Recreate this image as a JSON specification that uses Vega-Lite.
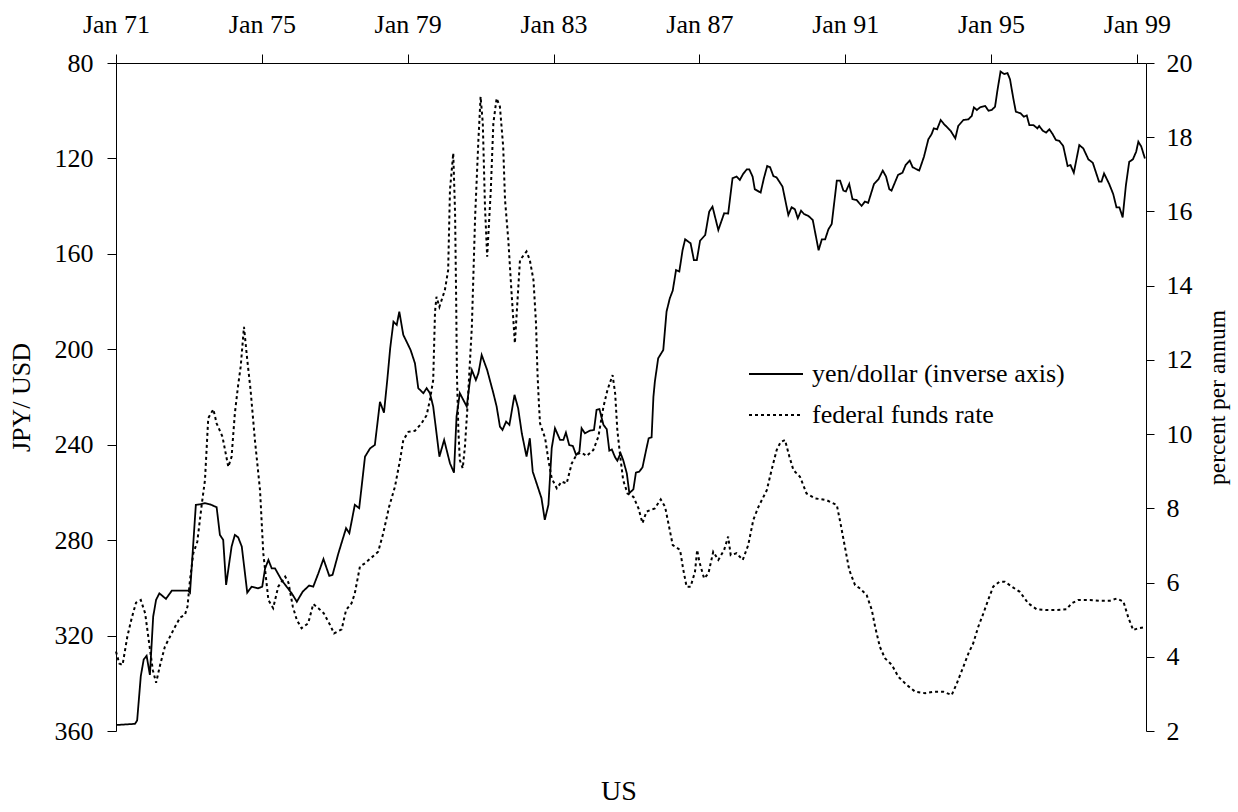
{
  "$schema": "https://vega.github.io/schema/vega-lite/v6.json",
  "width": 1030,
  "height": 668,
  "autosize": {"type": "none"},
  "padding": {"left": 116, "top": 63, "right": 92, "bottom": 81},
  "background": "white",
  "config": {
    "view": {"stroke": null},
    "font": "Liberation Serif",
    "axis": {
      "grid": false,
      "domainColor": "#000",
      "tickColor": "#000",
      "labelColor": "#000",
      "titleColor": "#000",
      "labelFont": "Liberation Serif",
      "titleFont": "Liberation Serif",
      "labelFontSize": 26,
      "titleFontSize": 26,
      "titleFontWeight": "normal",
      "domainWidth": 1,
      "tickWidth": 1
    },
    "legend": {"labelFont": "Liberation Serif", "titleFont": "Liberation Serif"},
    "title": {"font": "Liberation Serif"}
  },
  "title": {"text": "US", "orient": "bottom", "fontSize": 28, "font": "Liberation Serif", "fontWeight": "normal", "color": "#000", "offset": 34, "dx": -12},
  "datasets": {
    "yen": [
      {"year": 1971.00, "jpy": 357.5}, {"year": 1971.52, "jpy": 357}, {"year": 1971.58, "jpy": 355.6}, {"year": 1971.68, "jpy": 337},
      {"year": 1971.76, "jpy": 330}, {"year": 1971.84, "jpy": 328.5}, {"year": 1971.93, "jpy": 336.5}, {"year": 1972.02, "jpy": 312},
      {"year": 1972.10, "jpy": 305}, {"year": 1972.19, "jpy": 302.3}, {"year": 1972.37, "jpy": 304.6}, {"year": 1972.53, "jpy": 301.2},
      {"year": 1972.98, "jpy": 301.2}, {"year": 1973.03, "jpy": 302}, {"year": 1973.19, "jpy": 265.2}, {"year": 1973.30, "jpy": 265},
      {"year": 1973.44, "jpy": 264.5}, {"year": 1973.58, "jpy": 265}, {"year": 1973.76, "jpy": 266.2}, {"year": 1973.85, "jpy": 277.8},
      {"year": 1973.94, "jpy": 279.9}, {"year": 1974.02, "jpy": 298.8}, {"year": 1974.17, "jpy": 282.7}, {"year": 1974.26, "jpy": 277.8},
      {"year": 1974.35, "jpy": 278.8}, {"year": 1974.45, "jpy": 282.7}, {"year": 1974.60, "jpy": 302}, {"year": 1974.72, "jpy": 299.5},
      {"year": 1974.90, "jpy": 300.2}, {"year": 1975.01, "jpy": 299.5}, {"year": 1975.09, "jpy": 291.8}, {"year": 1975.18, "jpy": 288.3},
      {"year": 1975.27, "jpy": 291.8}, {"year": 1975.36, "jpy": 291.8}, {"year": 1975.54, "jpy": 296.7}, {"year": 1975.82, "jpy": 302.3},
      {"year": 1975.96, "jpy": 305.8}, {"year": 1976.12, "jpy": 301.6}, {"year": 1976.30, "jpy": 299}, {"year": 1976.41, "jpy": 299.5},
      {"year": 1976.55, "jpy": 293.9}, {"year": 1976.69, "jpy": 287.9}, {"year": 1976.85, "jpy": 295}, {"year": 1976.94, "jpy": 294.5},
      {"year": 1977.10, "jpy": 285.5}, {"year": 1977.31, "jpy": 275}, {"year": 1977.40, "jpy": 277.1}, {"year": 1977.55, "jpy": 265.2},
      {"year": 1977.67, "jpy": 266.6}, {"year": 1977.83, "jpy": 245}, {"year": 1977.97, "jpy": 241.5}, {"year": 1978.10, "jpy": 240.1},
      {"year": 1978.24, "jpy": 222}, {"year": 1978.35, "jpy": 226.6}, {"year": 1978.44, "jpy": 212.9}, {"year": 1978.52, "jpy": 199.6},
      {"year": 1978.61, "jpy": 188.4}, {"year": 1978.70, "jpy": 189.8}, {"year": 1978.77, "jpy": 184.2}, {"year": 1978.88, "jpy": 194},
      {"year": 1978.97, "jpy": 196.8}, {"year": 1979.08, "jpy": 200.3}, {"year": 1979.20, "jpy": 205.9}, {"year": 1979.29, "jpy": 216.3},
      {"year": 1979.43, "jpy": 218.4}, {"year": 1979.52, "jpy": 216.3}, {"year": 1979.61, "jpy": 218.4}, {"year": 1979.70, "jpy": 224},
      {"year": 1979.87, "jpy": 245}, {"year": 1980.00, "jpy": 238}, {"year": 1980.16, "jpy": 247.8}, {"year": 1980.27, "jpy": 251.7},
      {"year": 1980.34, "jpy": 228.2}, {"year": 1980.43, "jpy": 218.4}, {"year": 1980.62, "jpy": 224}, {"year": 1980.71, "jpy": 212.9},
      {"year": 1980.76, "jpy": 208.7}, {"year": 1980.87, "jpy": 212.9}, {"year": 1980.94, "jpy": 210}, {"year": 1981.03, "jpy": 202.4},
      {"year": 1981.18, "jpy": 208.7}, {"year": 1981.35, "jpy": 218.4}, {"year": 1981.44, "jpy": 224}, {"year": 1981.53, "jpy": 232.4},
      {"year": 1981.60, "jpy": 233.8}, {"year": 1981.70, "jpy": 230.3}, {"year": 1981.79, "jpy": 231.7}, {"year": 1981.93, "jpy": 219.1},
      {"year": 1982.03, "jpy": 224.7}, {"year": 1982.13, "jpy": 235.2}, {"year": 1982.26, "jpy": 245}, {"year": 1982.35, "jpy": 237.3},
      {"year": 1982.43, "jpy": 251.3}, {"year": 1982.67, "jpy": 262.4}, {"year": 1982.76, "jpy": 271.5}, {"year": 1982.86, "jpy": 265.2},
      {"year": 1982.95, "jpy": 241.5}, {"year": 1983.04, "jpy": 233.1}, {"year": 1983.18, "jpy": 238}, {"year": 1983.27, "jpy": 238},
      {"year": 1983.34, "jpy": 234.9}, {"year": 1983.43, "jpy": 240.1}, {"year": 1983.53, "jpy": 240.5}, {"year": 1983.62, "jpy": 244.3},
      {"year": 1983.71, "jpy": 242.9}, {"year": 1983.77, "jpy": 233.1}, {"year": 1983.86, "jpy": 235.2}, {"year": 1984.00, "jpy": 234.1},
      {"year": 1984.11, "jpy": 233.8}, {"year": 1984.18, "jpy": 225.4}, {"year": 1984.26, "jpy": 225.1}, {"year": 1984.37, "jpy": 231.7},
      {"year": 1984.46, "jpy": 233.5}, {"year": 1984.53, "jpy": 242.5}, {"year": 1984.60, "jpy": 242}, {"year": 1984.69, "jpy": 245.3},
      {"year": 1984.75, "jpy": 246.7}, {"year": 1984.84, "jpy": 243.6}, {"year": 1984.91, "jpy": 246.4}, {"year": 1985.01, "jpy": 252},
      {"year": 1985.08, "jpy": 260.3}, {"year": 1985.19, "jpy": 258.7}, {"year": 1985.26, "jpy": 251.7}, {"year": 1985.35, "jpy": 251.3},
      {"year": 1985.44, "jpy": 249.5}, {"year": 1985.54, "jpy": 242.2}, {"year": 1985.61, "jpy": 237.3}, {"year": 1985.69, "jpy": 236.9},
      {"year": 1985.74, "jpy": 219.9}, {"year": 1985.78, "jpy": 213.5}, {"year": 1985.87, "jpy": 203.8}, {"year": 1986.01, "jpy": 200.3},
      {"year": 1986.10, "jpy": 184.2}, {"year": 1986.19, "jpy": 178.6}, {"year": 1986.27, "jpy": 175.4}, {"year": 1986.36, "jpy": 166.8},
      {"year": 1986.45, "jpy": 167.4}, {"year": 1986.54, "jpy": 158.4}, {"year": 1986.61, "jpy": 153.9}, {"year": 1986.76, "jpy": 155.6},
      {"year": 1986.85, "jpy": 162.6}, {"year": 1986.93, "jpy": 162.6}, {"year": 1987.02, "jpy": 154.5}, {"year": 1987.16, "jpy": 152.1},
      {"year": 1987.27, "jpy": 142.3}, {"year": 1987.36, "jpy": 140.2}, {"year": 1987.52, "jpy": 150}, {"year": 1987.68, "jpy": 143},
      {"year": 1987.79, "jpy": 143.1}, {"year": 1987.91, "jpy": 128.3}, {"year": 1988.02, "jpy": 127.6}, {"year": 1988.11, "jpy": 129},
      {"year": 1988.20, "jpy": 126.5}, {"year": 1988.30, "jpy": 124.6}, {"year": 1988.37, "jpy": 124.6}, {"year": 1988.46, "jpy": 127.6},
      {"year": 1988.52, "jpy": 132.9}, {"year": 1988.68, "jpy": 134.3}, {"year": 1988.77, "jpy": 128.3}, {"year": 1988.86, "jpy": 123.2},
      {"year": 1988.94, "jpy": 123.7}, {"year": 1989.03, "jpy": 127.4}, {"year": 1989.12, "jpy": 128}, {"year": 1989.28, "jpy": 131.8},
      {"year": 1989.44, "jpy": 143.7}, {"year": 1989.53, "jpy": 140.5}, {"year": 1989.62, "jpy": 141.3}, {"year": 1989.70, "jpy": 145.1},
      {"year": 1989.79, "jpy": 141.9}, {"year": 1989.87, "jpy": 143.3}, {"year": 1989.99, "jpy": 144.1}, {"year": 1990.11, "jpy": 145.8},
      {"year": 1990.27, "jpy": 158.5}, {"year": 1990.36, "jpy": 153.9}, {"year": 1990.45, "jpy": 153.9}, {"year": 1990.54, "jpy": 149.7},
      {"year": 1990.63, "jpy": 147.5}, {"year": 1990.77, "jpy": 129.3}, {"year": 1990.86, "jpy": 129.3}, {"year": 1990.95, "jpy": 133.5},
      {"year": 1991.02, "jpy": 133.8}, {"year": 1991.11, "jpy": 130.7}, {"year": 1991.20, "jpy": 137.1}, {"year": 1991.31, "jpy": 137.4},
      {"year": 1991.45, "jpy": 139.9}, {"year": 1991.54, "jpy": 138.1}, {"year": 1991.63, "jpy": 138.6}, {"year": 1991.79, "jpy": 130.7},
      {"year": 1991.91, "jpy": 128.8}, {"year": 1992.03, "jpy": 125.1}, {"year": 1992.12, "jpy": 127.6}, {"year": 1992.21, "jpy": 132.9},
      {"year": 1992.27, "jpy": 133.5}, {"year": 1992.45, "jpy": 126.9}, {"year": 1992.57, "jpy": 126}, {"year": 1992.66, "jpy": 122.7},
      {"year": 1992.77, "jpy": 120.9}, {"year": 1992.85, "jpy": 123.7}, {"year": 1993.03, "jpy": 125.1}, {"year": 1993.16, "jpy": 119.3},
      {"year": 1993.28, "jpy": 112}, {"year": 1993.37, "jpy": 109.8}, {"year": 1993.43, "jpy": 107.4}, {"year": 1993.52, "jpy": 107.8},
      {"year": 1993.62, "jpy": 103.9}, {"year": 1993.71, "jpy": 105.6}, {"year": 1993.89, "jpy": 108.4}, {"year": 1994.02, "jpy": 111.6},
      {"year": 1994.10, "jpy": 106.4}, {"year": 1994.24, "jpy": 103.9}, {"year": 1994.38, "jpy": 103.6}, {"year": 1994.47, "jpy": 102.2},
      {"year": 1994.53, "jpy": 98.6}, {"year": 1994.61, "jpy": 99.7}, {"year": 1994.70, "jpy": 98.6}, {"year": 1994.84, "jpy": 98},
      {"year": 1994.93, "jpy": 100}, {"year": 1995.02, "jpy": 99.7}, {"year": 1995.11, "jpy": 98.3}, {"year": 1995.17, "jpy": 92},
      {"year": 1995.26, "jpy": 83.6}, {"year": 1995.36, "jpy": 84.6}, {"year": 1995.45, "jpy": 84.2}, {"year": 1995.52, "jpy": 86.8},
      {"year": 1995.61, "jpy": 94.8}, {"year": 1995.68, "jpy": 100.4}, {"year": 1995.81, "jpy": 101.1}, {"year": 1995.90, "jpy": 102.5},
      {"year": 1995.98, "jpy": 102}, {"year": 1996.05, "jpy": 106}, {"year": 1996.16, "jpy": 106}, {"year": 1996.27, "jpy": 107.4},
      {"year": 1996.32, "jpy": 106.4}, {"year": 1996.42, "jpy": 108.4}, {"year": 1996.51, "jpy": 109.2}, {"year": 1996.60, "jpy": 107.8},
      {"year": 1996.69, "jpy": 109.8}, {"year": 1996.78, "jpy": 112.3}, {"year": 1996.87, "jpy": 112.6}, {"year": 1996.98, "jpy": 114.8},
      {"year": 1997.10, "jpy": 123.2}, {"year": 1997.18, "jpy": 122.8}, {"year": 1997.27, "jpy": 126}, {"year": 1997.42, "jpy": 114.4},
      {"year": 1997.53, "jpy": 115.8}, {"year": 1997.67, "jpy": 120.4}, {"year": 1997.79, "jpy": 121.8}, {"year": 1997.96, "jpy": 129.7},
      {"year": 1998.03, "jpy": 129.7}, {"year": 1998.10, "jpy": 126.3}, {"year": 1998.24, "jpy": 130.7}, {"year": 1998.35, "jpy": 134.9},
      {"year": 1998.44, "jpy": 140.5}, {"year": 1998.52, "jpy": 140.5}, {"year": 1998.61, "jpy": 144.7}, {"year": 1998.70, "jpy": 131.1},
      {"year": 1998.79, "jpy": 121.4}, {"year": 1998.89, "jpy": 120.4}, {"year": 1998.98, "jpy": 117.2}, {"year": 1999.04, "jpy": 113},
      {"year": 1999.12, "jpy": 115}, {"year": 1999.22, "jpy": 120}
    ],
    "fed": [
      {"year": 1971.00, "rate": 4.14}, {"year": 1971.09, "rate": 3.82}, {"year": 1971.18, "rate": 3.78}, {"year": 1971.31, "rate": 4.54},
      {"year": 1971.43, "rate": 5.04}, {"year": 1971.55, "rate": 5.46}, {"year": 1971.68, "rate": 5.53}, {"year": 1971.80, "rate": 5.17},
      {"year": 1971.91, "rate": 4.36}, {"year": 1972.01, "rate": 3.64}, {"year": 1972.10, "rate": 3.3}, {"year": 1972.21, "rate": 3.78},
      {"year": 1972.34, "rate": 4.27}, {"year": 1972.48, "rate": 4.54}, {"year": 1972.62, "rate": 4.81}, {"year": 1972.76, "rate": 5.06},
      {"year": 1972.89, "rate": 5.13}, {"year": 1972.96, "rate": 5.35}, {"year": 1973.03, "rate": 6.07}, {"year": 1973.12, "rate": 6.79},
      {"year": 1973.23, "rate": 7.1}, {"year": 1973.35, "rate": 8.09}, {"year": 1973.44, "rate": 8.76}, {"year": 1973.53, "rate": 10.43},
      {"year": 1973.67, "rate": 10.67}, {"year": 1973.76, "rate": 10.29}, {"year": 1973.92, "rate": 9.93}, {"year": 1974.08, "rate": 9.12},
      {"year": 1974.17, "rate": 9.39}, {"year": 1974.26, "rate": 10.56}, {"year": 1974.35, "rate": 11.32}, {"year": 1974.42, "rate": 11.82},
      {"year": 1974.51, "rate": 12.89}, {"year": 1974.60, "rate": 12.0}, {"year": 1974.69, "rate": 11.2}, {"year": 1974.81, "rate": 9.84},
      {"year": 1974.95, "rate": 8.49}, {"year": 1975.04, "rate": 6.79}, {"year": 1975.18, "rate": 5.53}, {"year": 1975.31, "rate": 5.31},
      {"year": 1975.45, "rate": 5.89}, {"year": 1975.64, "rate": 6.16}, {"year": 1975.73, "rate": 6.0}, {"year": 1975.85, "rate": 5.35},
      {"year": 1975.96, "rate": 4.99}, {"year": 1976.09, "rate": 4.77}, {"year": 1976.27, "rate": 4.9}, {"year": 1976.41, "rate": 5.42},
      {"year": 1976.55, "rate": 5.31}, {"year": 1976.70, "rate": 5.17}, {"year": 1976.87, "rate": 4.86}, {"year": 1976.98, "rate": 4.63},
      {"year": 1977.19, "rate": 4.74}, {"year": 1977.31, "rate": 5.26}, {"year": 1977.46, "rate": 5.44}, {"year": 1977.55, "rate": 5.71},
      {"year": 1977.69, "rate": 6.43}, {"year": 1977.83, "rate": 6.52}, {"year": 1977.98, "rate": 6.65}, {"year": 1978.19, "rate": 6.83},
      {"year": 1978.33, "rate": 7.33}, {"year": 1978.49, "rate": 8.04}, {"year": 1978.65, "rate": 8.58}, {"year": 1978.79, "rate": 9.3},
      {"year": 1978.88, "rate": 9.84}, {"year": 1979.02, "rate": 10.06}, {"year": 1979.20, "rate": 10.09}, {"year": 1979.38, "rate": 10.29},
      {"year": 1979.52, "rate": 10.51}, {"year": 1979.61, "rate": 10.92}, {"year": 1979.70, "rate": 11.46}, {"year": 1979.75, "rate": 13.3},
      {"year": 1979.79, "rate": 13.7}, {"year": 1979.87, "rate": 13.43}, {"year": 1980.02, "rate": 13.88}, {"year": 1980.11, "rate": 14.42},
      {"year": 1980.16, "rate": 16.58}, {"year": 1980.25, "rate": 17.57}, {"year": 1980.30, "rate": 15.95}, {"year": 1980.33, "rate": 13.61},
      {"year": 1980.35, "rate": 11.64}, {"year": 1980.39, "rate": 10.11}, {"year": 1980.43, "rate": 9.3}, {"year": 1980.51, "rate": 9.08},
      {"year": 1980.57, "rate": 9.66}, {"year": 1980.64, "rate": 10.74}, {"year": 1980.76, "rate": 12.89}, {"year": 1980.85, "rate": 15.86},
      {"year": 1980.94, "rate": 17.93}, {"year": 1981.00, "rate": 19.09}, {"year": 1981.06, "rate": 18.38}, {"year": 1981.12, "rate": 16.13},
      {"year": 1981.18, "rate": 14.78}, {"year": 1981.28, "rate": 16.58}, {"year": 1981.35, "rate": 18.38}, {"year": 1981.44, "rate": 19.05},
      {"year": 1981.53, "rate": 18.82}, {"year": 1981.62, "rate": 17.74}, {"year": 1981.67, "rate": 16.31}, {"year": 1981.76, "rate": 15.23},
      {"year": 1981.85, "rate": 13.79}, {"year": 1981.94, "rate": 12.45}, {"year": 1982.08, "rate": 14.69}, {"year": 1982.26, "rate": 14.92},
      {"year": 1982.35, "rate": 14.69}, {"year": 1982.45, "rate": 14.15}, {"year": 1982.52, "rate": 12.98}, {"year": 1982.56, "rate": 11.64},
      {"year": 1982.60, "rate": 10.8}, {"year": 1982.63, "rate": 10.29}, {"year": 1982.77, "rate": 9.89}, {"year": 1982.86, "rate": 9.3},
      {"year": 1982.95, "rate": 8.81}, {"year": 1983.09, "rate": 8.54}, {"year": 1983.22, "rate": 8.72}, {"year": 1983.36, "rate": 8.67},
      {"year": 1983.50, "rate": 9.21}, {"year": 1983.64, "rate": 9.46}, {"year": 1983.77, "rate": 9.5}, {"year": 1983.91, "rate": 9.41},
      {"year": 1984.09, "rate": 9.57}, {"year": 1984.23, "rate": 9.93}, {"year": 1984.37, "rate": 10.74}, {"year": 1984.48, "rate": 11.19},
      {"year": 1984.62, "rate": 11.59}, {"year": 1984.69, "rate": 11.1}, {"year": 1984.75, "rate": 10.11}, {"year": 1984.82, "rate": 9.48},
      {"year": 1984.91, "rate": 8.76}, {"year": 1985.03, "rate": 8.4}, {"year": 1985.19, "rate": 8.31}, {"year": 1985.33, "rate": 8.0},
      {"year": 1985.44, "rate": 7.6}, {"year": 1985.55, "rate": 7.91}, {"year": 1985.78, "rate": 8.0}, {"year": 1985.94, "rate": 8.24},
      {"year": 1986.06, "rate": 8.04}, {"year": 1986.15, "rate": 7.6}, {"year": 1986.27, "rate": 7.01}, {"year": 1986.47, "rate": 6.88},
      {"year": 1986.56, "rate": 6.34}, {"year": 1986.65, "rate": 5.89}, {"year": 1986.76, "rate": 5.89}, {"year": 1986.88, "rate": 6.29},
      {"year": 1986.94, "rate": 6.88}, {"year": 1987.00, "rate": 6.56}, {"year": 1987.13, "rate": 6.11}, {"year": 1987.25, "rate": 6.25},
      {"year": 1987.38, "rate": 6.83}, {"year": 1987.52, "rate": 6.61}, {"year": 1987.68, "rate": 6.88}, {"year": 1987.79, "rate": 7.24},
      {"year": 1987.86, "rate": 6.74}, {"year": 1988.02, "rate": 6.79}, {"year": 1988.19, "rate": 6.61}, {"year": 1988.34, "rate": 7.01},
      {"year": 1988.48, "rate": 7.69}, {"year": 1988.62, "rate": 8.04}, {"year": 1988.85, "rate": 8.49}, {"year": 1988.98, "rate": 9.03},
      {"year": 1989.12, "rate": 9.57}, {"year": 1989.23, "rate": 9.79}, {"year": 1989.35, "rate": 9.84}, {"year": 1989.47, "rate": 9.39},
      {"year": 1989.58, "rate": 9.03}, {"year": 1989.76, "rate": 8.85}, {"year": 1989.94, "rate": 8.4}, {"year": 1990.17, "rate": 8.27},
      {"year": 1990.49, "rate": 8.22}, {"year": 1990.77, "rate": 8.09}, {"year": 1990.87, "rate": 7.6}, {"year": 1990.99, "rate": 6.97},
      {"year": 1991.11, "rate": 6.34}, {"year": 1991.27, "rate": 5.93}, {"year": 1991.41, "rate": 5.84}, {"year": 1991.59, "rate": 5.66},
      {"year": 1991.73, "rate": 5.26}, {"year": 1991.82, "rate": 4.81}, {"year": 1991.95, "rate": 4.27}, {"year": 1992.09, "rate": 3.96},
      {"year": 1992.28, "rate": 3.78}, {"year": 1992.46, "rate": 3.46}, {"year": 1992.69, "rate": 3.24}, {"year": 1992.92, "rate": 3.06},
      {"year": 1993.19, "rate": 3.02}, {"year": 1993.42, "rate": 3.06}, {"year": 1993.69, "rate": 3.06}, {"year": 1993.92, "rate": 2.97},
      {"year": 1994.06, "rate": 3.28}, {"year": 1994.24, "rate": 3.73}, {"year": 1994.38, "rate": 4.09}, {"year": 1994.51, "rate": 4.36},
      {"year": 1994.65, "rate": 4.81}, {"year": 1994.79, "rate": 5.17}, {"year": 1994.92, "rate": 5.53}, {"year": 1995.06, "rate": 5.89},
      {"year": 1995.23, "rate": 6.02}, {"year": 1995.38, "rate": 6.02}, {"year": 1995.57, "rate": 5.89}, {"year": 1995.79, "rate": 5.75},
      {"year": 1996.02, "rate": 5.44}, {"year": 1996.25, "rate": 5.28}, {"year": 1996.53, "rate": 5.26}, {"year": 1996.80, "rate": 5.26},
      {"year": 1997.07, "rate": 5.28}, {"year": 1997.21, "rate": 5.44}, {"year": 1997.39, "rate": 5.53}, {"year": 1997.71, "rate": 5.53},
      {"year": 1997.99, "rate": 5.51}, {"year": 1998.26, "rate": 5.51}, {"year": 1998.45, "rate": 5.57}, {"year": 1998.63, "rate": 5.49},
      {"year": 1998.77, "rate": 5.04}, {"year": 1998.90, "rate": 4.72}, {"year": 1999.04, "rate": 4.77}, {"year": 1999.22, "rate": 4.8}
    ]
  },
  "layer": [
    {
      "data": {"name": "yen"},
      "mark": {"type": "line", "strokeWidth": 1.8, "color": "#000"},
      "encoding": {
        "x": {
          "field": "year", "type": "quantitative",
          "scale": {"domain": [1971, 1999.25], "nice": false, "zero": false},
          "axis": {"orient": "top", "values": [1971, 1975, 1979, 1983, 1987, 1991, 1995, 1999],
                   "labelExpr": "'Jan ' + substring(toString(datum.value), 2)",
                   "labelFont": "Liberation Serif",
                   "title": null, "tickSize": 9, "labelPadding": 17, "labelFlush": false, "labelOverlap": false}
        },
        "y": {
          "field": "jpy", "type": "quantitative",
          "scale": {"domain": [80, 360], "reverse": true, "nice": false, "zero": false},
          "axis": {"values": [80, 120, 160, 200, 240, 280, 320, 360], "title": "JPY/ USD",
                   "labelFont": "Liberation Serif", "titleFont": "Liberation Serif",
                   "tickSize": 9, "labelPadding": 14, "titlePadding": 20}
        },
        "strokeDash": {
          "datum": "yen/dollar (inverse axis)", "type": "nominal",
          "scale": {"domain": ["yen/dollar (inverse axis)", "federal funds rate"], "range": [[1, 0], [3, 3]]},
          "legend": {
            "orient": "none", "legendX": 632, "legendY": 283, "title": null,
            "symbolType": "stroke", "symbolSize": 2916, "symbolStrokeWidth": 1.8, "symbolStrokeColor": "#000",
            "labelFontSize": 26, "labelFont": "Liberation Serif", "labelColor": "#000", "labelOffset": 8,
            "labelLimit": 0, "rowPadding": -14, "padding": 0
          }
        }
      }
    },
    {
      "data": {"name": "fed"},
      "mark": {"type": "line", "strokeWidth": 2, "color": "#000"},
      "encoding": {
        "x": {
          "field": "year", "type": "quantitative",
          "scale": {"domain": [1971, 1999.25], "nice": false, "zero": false},
          "axis": {"orient": "top", "values": [1971, 1975, 1979, 1983, 1987, 1991, 1995, 1999],
                   "labelExpr": "'Jan ' + substring(toString(datum.value), 2)",
                   "labelFont": "Liberation Serif",
                   "title": null, "tickSize": 9, "labelPadding": 17, "labelFlush": false, "labelOverlap": false}
        },
        "y": {
          "field": "rate", "type": "quantitative",
          "scale": {"domain": [2, 20], "nice": false, "zero": false},
          "axis": {"orient": "right", "values": [2, 4, 6, 8, 10, 12, 14, 16, 18, 20], "title": "percent per annum",
                   "labelFont": "Liberation Serif", "titleFont": "Liberation Serif",
                   "titleFontSize": 23.5, "titleAngle": -90, "tickSize": 8, "labelPadding": 12, "titlePadding": 37}
        },
        "strokeDash": {"datum": "federal funds rate", "type": "nominal"}
      }
    }
  ],
  "resolve": {"scale": {"y": "independent"}}
}
